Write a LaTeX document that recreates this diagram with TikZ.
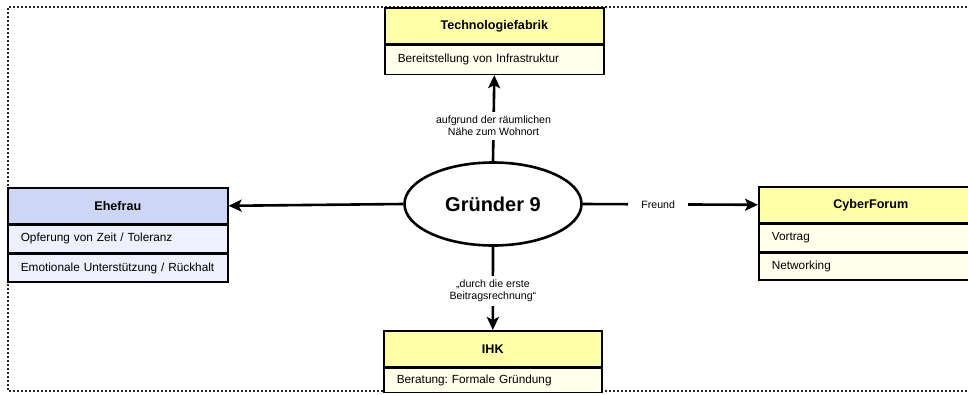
\documentclass[tikz,border=0pt]{standalone}
\usepackage{fontspec}
\setmainfont{Liberation Sans}
\frenchspacing
\usetikzlibrary{shapes.geometric,arrows.meta}
\definecolor{hdryellow}{RGB}{255,255,170}
\definecolor{rowyellow}{RGB}{255,255,236}
\definecolor{hdrblue}{RGB}{206,214,246}
\definecolor{rowblue}{RGB}{238,241,253}
\definecolor{framegray}{RGB}{40,40,40}
\tikzset{
  hdr/.style={draw=black, line width=1.6pt, minimum height=36pt, inner sep=0pt,
    font=\fontsize{12.6}{14}\selectfont\bfseries, anchor=north west},
  rowbox/.style={draw=black, line width=1.6pt, inner xsep=13pt, inner ysep=0pt,
    align=left, font=\fontsize{11.8}{14}\selectfont, anchor=north},
  conn/.style={line width=2.6pt, -{Stealth[length=13pt,width=12pt,inset=3pt]}},
  lbl/.style={fill=white, font=\fontsize{10.6}{12.2}\selectfont, align=center, inner xsep=4pt, inner ysep=4pt},
}
\begin{document}
\begin{tikzpicture}[x=1pt,y=-1pt]
\useasboundingbox (0,0) rectangle (968,394);
% dotted frame
\draw[framegray, line width=2pt, dash pattern=on 2pt off 2pt] (975,7) -- (8,7) -- (8,391) -- (975,391);

% Technologiefabrik
\node[hdr, fill=hdryellow, minimum width=219pt] (techH) at (384,7) {Technologiefabrik};
\node[rowbox, fill=rowyellow, text width=193pt, minimum height=29pt] (techR1) at (techH.south) {Bereitstellung von Infrastruktur};

% Ehefrau
\node[hdr, fill=hdrblue, minimum width=220pt] (ehH) at (7,187) {Ehefrau};
\node[rowbox, fill=rowblue, text width=194pt, minimum height=27pt] (ehR1) at (ehH.south) {Opferung von Zeit / Toleranz};
\node[rowbox, fill=rowblue, text width=194pt, minimum height=28pt] (ehR2) at (ehR1.south) {Emotionale Unterstützung / Rückhalt};

% CyberForum
\node[hdr, fill=hdryellow, minimum width=224pt] (cyH) at (758,186) {CyberForum};
\node[rowbox, fill=rowyellow, text width=198pt, minimum height=27pt] (cyR1) at (cyH.south) {Vortrag};
\node[rowbox, fill=rowyellow, text width=198pt, minimum height=27pt] (cyR2) at (cyR1.south) {Networking};

% IHK
\node[hdr, fill=hdryellow, minimum width=218pt] (ihkH) at (383,330) {IHK};
\node[rowbox, fill=rowyellow, text width=192pt, minimum height=24pt] (ihkR1) at (ihkH.south) {Beratung: Formale Gründung};

% centre
\node[ellipse, draw=black, line width=2.6pt, minimum width=177pt, minimum height=83pt, inner sep=0pt,
  font=\fontsize{20}{23}\selectfont\bfseries] (g) at (493,204) {Gründer 9};

% connectors
\draw[conn] (g.north) -- node[lbl, pos=0.41] (lup) {aufgrund der räumlichen\\Nähe zum Wohnort} (techR1.south);
\draw[conn] (g.south) -- node[lbl, pos=0.53] (ldown) {„durch die erste\\Beitragsrechnung“} (ihkH.north);
\draw[conn] (g.west) -- (ehH.east);
\draw[conn] (g.east) -- node[lbl, pos=0.43, inner xsep=13pt] (lright) {Freund} (cyH.west);
\end{tikzpicture}
\end{document}
